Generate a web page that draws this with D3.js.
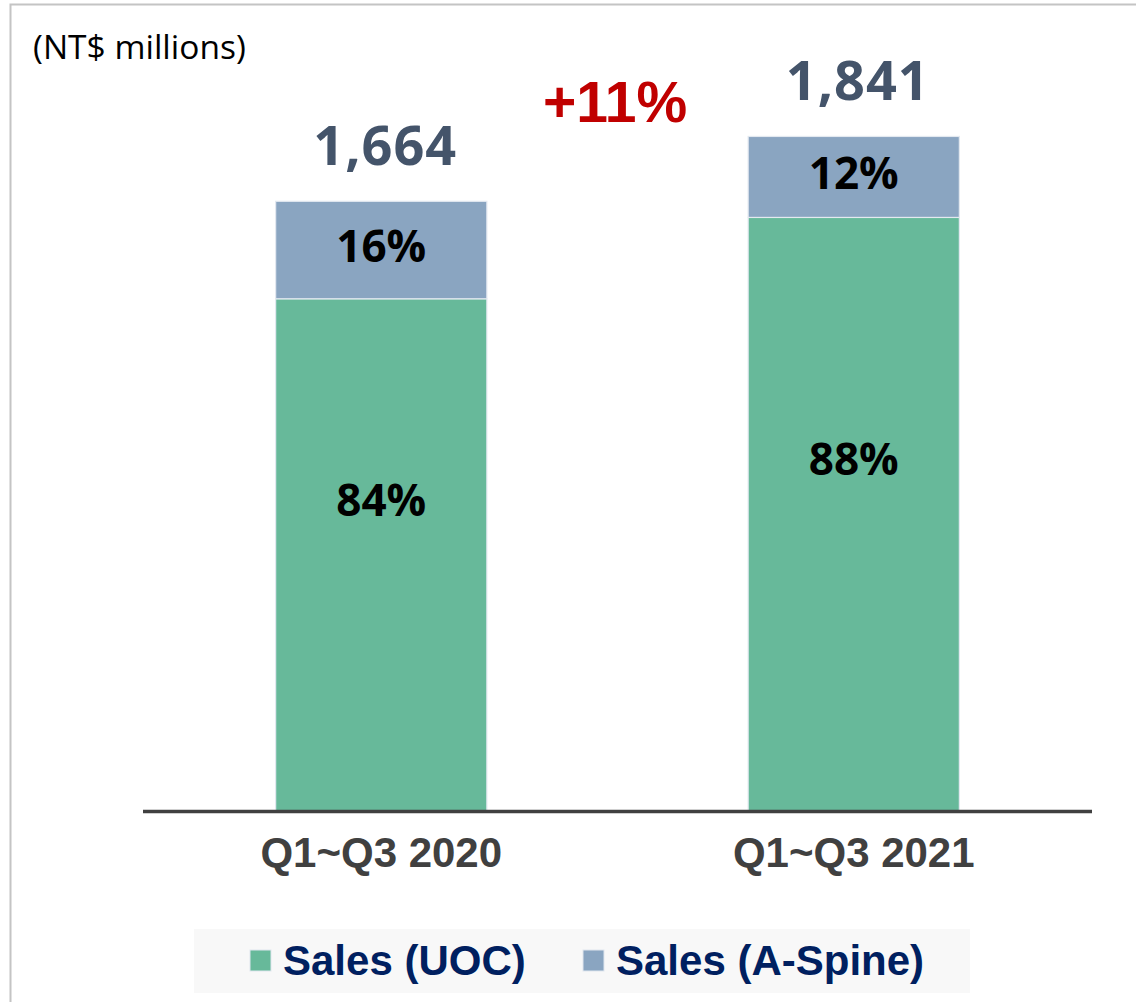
<!DOCTYPE html>
<html>
<head>
<meta charset="utf-8">
<script src="https://cdn.jsdelivr.net/npm/d3@7"></script>
<style>
  body { margin: 0; background: #fff; }
  svg { display: block; }
</style>
</head>
<body>
<div id="chart"></div>
<script>
// data
const periods = ["Q1~Q3 2020", "Q1~Q3 2021"];
const salesUOC = [1398, 1620];
const salesASpine = [266, 221];
const seriesNames = ["Sales (UOC)", "Sales (A-Spine)"];
const growthLabel = "+11%";
const unitLabel = "(NT$ millions)";

const W = 1136, H = 1002;
const colors = ["#67b99a", "#8aa5c1"];

const svg = d3.select("#chart").append("svg")
    .attr("width", W)
    .attr("height", H);

// frame
svg.append("path")
    .attr("d", `M10.5,${H} V4.5 H${W}`)
    .attr("fill", "none")
    .attr("stroke", "#c4c4c4")
    .attr("stroke-width", 2);

const x = d3.scaleBand()
    .domain(periods)
    .range([145, 1090])
    .paddingInner(0.553)
    .paddingOuter(0.2765);

const y = d3.scaleLinear()
    .domain([0, 2000])
    .range([811, 811 - 2000 * 0.3664]);

const rows = periods.map((p, i) => ({period: p, uoc: salesUOC[i], aspine: salesASpine[i]}));
const stack = d3.stack().keys(["uoc", "aspine"])(rows);

const layers = svg.selectAll("g.layer")
    .data(stack)
    .enter()
    .append("g")
        .classed("layer", true)
        .attr("fill", (d, i) => colors[i]);

layers.selectAll("rect")
    .data(d => d)
    .enter()
    .append("rect")
        .attr("x", d => x(d.data.period))
        .attr("y", d => y(d[1]))
        .attr("width", x.bandwidth())
        .attr("height", d => y(d[0]) - y(d[1]))
        .attr("stroke", "#e3e9f0")
        .attr("stroke-width", 1.2);

// segment percentage labels
const labelDy = [-39, 12];
stack.forEach((layer, li) => {
    svg.selectAll(null)
        .data(layer)
        .enter()
        .append("text")
            .attr("x", d => x(d.data.period) + x.bandwidth() / 2)
            .attr("y", d => y((d[0] + d[1]) / 2) + labelDy[li])
            .attr("text-anchor", "middle")
            .attr("font-family", "'Open Sans', sans-serif")
            .attr("font-weight", 700)
            .attr("font-size", "44px")
            .attr("fill", "#000")
            .text(d => Math.round((d[1] - d[0]) / (d.data.uoc + d.data.aspine) * 100) + "%");
});

// totals
svg.selectAll("text.total")
    .data(rows)
    .enter()
    .append("text")
        .classed("total", true)
        .attr("x", d => x(d.period) + x.bandwidth() / 2 + 4)
        .attr("y", d => y(d.uoc + d.aspine) - 36)
        .attr("text-anchor", "middle")
        .attr("font-family", "'Open Sans', sans-serif")
        .attr("font-weight", 700)
        .attr("font-size", "54px")
        .attr("letter-spacing", "1px")
        .attr("fill", "#44546a")
        .text(d => d3.format(",")(d.uoc + d.aspine));

// growth
svg.append("text")
    .attr("x", 615)
    .attr("y", 122)
    .attr("text-anchor", "middle")
    .attr("font-family", "'Liberation Sans', Arial, sans-serif")
    .attr("font-weight", 700)
    .attr("font-size", "57px")
    .attr("fill", "#c00000")
    .text(growthLabel);

// unit
svg.append("text")
    .attr("x", 33)
    .attr("y", 59)
    .attr("font-family", "'Open Sans', sans-serif")
    .attr("font-size", "33.5px")
    .attr("fill", "#000")
    .text(unitLabel);

// x axis
const xAxis = svg.append("g")
    .attr("transform", "translate(0, 811.5)")
    .call(d3.axisBottom(x).tickSize(0).tickPadding(24).tickSizeOuter(0));

xAxis.select(".domain")
    .attr("d", "M143,0H1092")
    .attr("stroke", "#404040")
    .attr("stroke-width", 3.5);

xAxis.selectAll("text")
    .attr("font-family", "'Liberation Sans', Arial, sans-serif")
    .attr("font-weight", 700)
    .attr("font-size", "42px")
    .attr("fill", "#404040")
    .attr("dy", "0.74em");

// legend
const legend = svg.append("g");
legend.append("rect")
    .attr("x", 194)
    .attr("y", 929)
    .attr("width", 776)
    .attr("height", 64)
    .attr("fill", "#f8f8f8");

const legendX = [250, 583];
const item = legend.selectAll("g.item")
    .data(seriesNames)
    .enter()
    .append("g")
        .classed("item", true)
        .attr("transform", (d, i) => `translate(${legendX[i]}, 950)`);

item.append("rect")
    .attr("width", 21)
    .attr("height", 21)
    .attr("fill", (d, i) => colors[i])
    .attr("stroke", "#dfe6ee")
    .attr("stroke-width", 1);

item.append("text")
    .attr("x", 33)
    .attr("y", 25)
    .attr("font-family", "'Liberation Sans', Arial, sans-serif")
    .attr("font-weight", 700)
    .attr("font-size", "42px")
    .attr("fill", "#002060")
    .text(d => d);
</script>
</body>
</html>
